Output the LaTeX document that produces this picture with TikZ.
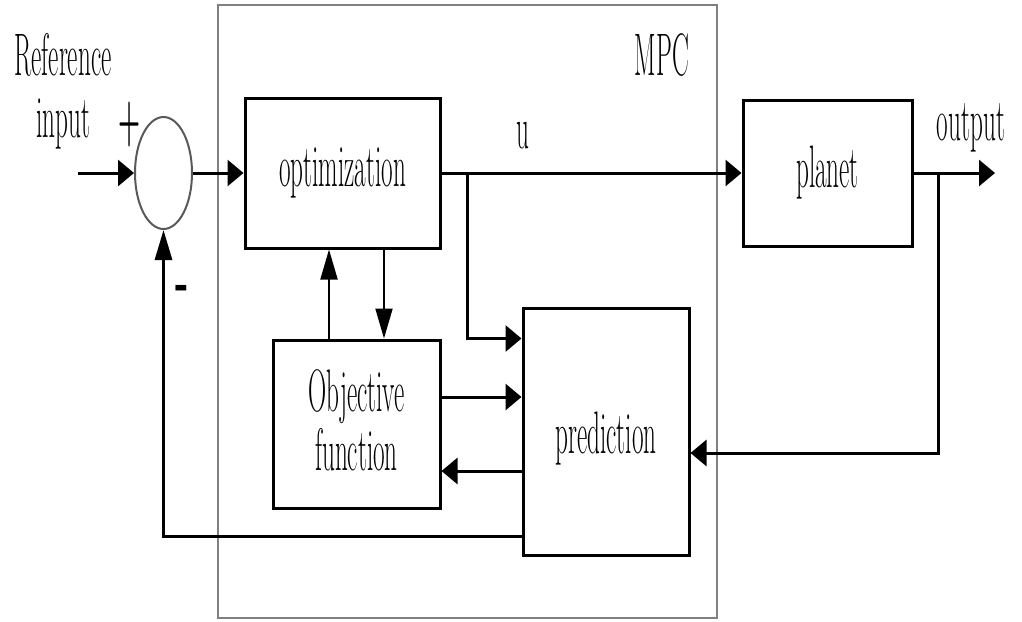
\documentclass[tikz,border=0pt]{standalone}
\usetikzlibrary{arrows.meta,shapes.geometric}
\newcommand{\narrow}[1]{\scalebox{0.42}[1]{#1}}
\tikzset{
 block/.style={draw,line width=3pt,inner sep=0pt,font=\fontsize{60}{55}\selectfont},
 lbl/.style={inner sep=0pt,font=\fontsize{60}{55}\selectfont},
 hto/.style={line width=3pt,-{Triangle[length=16pt,width=26pt]}},
 vto/.style={line width=2pt,-{Triangle[length=30pt,width=17pt]}},
}

\begin{document}
\begin{tikzpicture}[x=1pt,y=-1pt]
 \useasboundingbox (0,0) rectangle (1022,621);
 % controller frame
 \node[draw=gray,line width=2pt,minimum width=499pt,minimum height=613pt,inner sep=0pt] (mpc) at (467.5,311.5) {};
 \node[lbl,anchor=base] (mpclbl) at (662,75) {\narrow{MPC}};
 % blocks
 \node[ellipse,draw=gray!70!black,line width=2pt,minimum width=57pt,minimum height=112pt,inner sep=0pt] (sum) at (163.5,173) {};
 \node[block,minimum width=195pt,minimum height=150pt] (opt) at (342.5,173) {\narrow{optimization}};
 \node[block,minimum width=169pt,minimum height=146pt] (plant) at (827.5,173) {\narrow{planet}};
 \node[block,minimum width=167pt,minimum height=168pt] (obj) at (356.5,424) {};
 \node[lbl] (objlbl) at ([yshift=-4pt]obj.center) {\narrow{\begin{tabular}{@{}c@{}}Objective\\function\end{tabular}}};
 \node[block,minimum width=166pt,minimum height=247pt] (pred) at (606,431.5) {};
 \node[lbl,anchor=base] (predlbl) at (606,453) {\narrow{prediction}};
 % labels
 \node[lbl,anchor=base] (reflbl) at (63,75) {\narrow{Reference}};
 \node[lbl,anchor=base] (inlbl) at (63,137) {\narrow{input}};
 \node[lbl] (plus) at (130,125) {\narrow{\textbf{+}}};
 \node[lbl] (minus) at (182,293) {\scalebox{0.6}[1]{\textbf{-}}};
 \node[lbl,anchor=base] (ulbl) at (523,148) {\narrow{u}};
 \node[lbl,anchor=base] (outlbl) at (971,140) {\narrow{output}};
 % signal points
 \coordinate (in) at (78,173);
 \coordinate (out) at (995,173);
 \coordinate (ubr) at (467,173);
 \coordinate (ybr) at (938,173);
 \coordinate (yin) at (938,453);
 % connectors
 \draw[hto] (in) -- (sum);
 \draw[hto] (sum) -- (opt);
 \draw[hto] (opt) -- (plant);
 \draw[hto] (plant) -- (out);
 \draw[hto] (ybr) -- (yin) -- (yin -| pred.east);
 \draw[hto] (ubr) |- (pred.west |- obj.north);
 \draw[hto] ([yshift=27pt]obj.east) -- ([yshift=27pt]obj.east -| pred.west);
 \draw[hto] ([yshift=-47pt]obj.east -| pred.west) -- ([yshift=-47pt]obj.east);
 \draw[vto,line width=3pt] (pred.west |- 0,536) -| (sum.south);
 \draw[vto] ([xshift=-27.5pt]obj.north) -- ([xshift=-27.5pt]obj.north |- opt.south);
 \draw[vto] ([xshift=27.5pt]obj.north |- opt.south) -- ([xshift=27.5pt]obj.north);
\end{tikzpicture}
\end{document}
